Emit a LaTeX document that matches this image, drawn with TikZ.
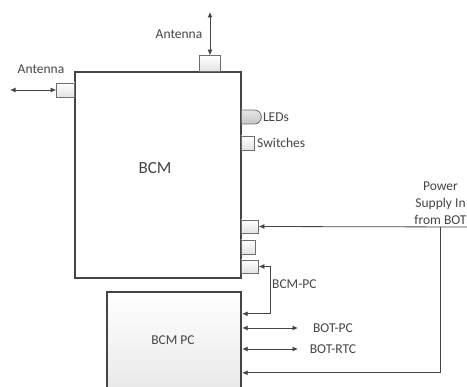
\documentclass[tikz,border=0pt]{standalone}
\usepackage{fontspec}
\setmainfont{Carlito}
\usepackage{xcolor}
\usepackage{tikz}
\usetikzlibrary{arrows.meta,positioning,calc,shapes.misc}
\definecolor{linec}{HTML}{454545}
\definecolor{portc}{HTML}{6E6E6E}

\begin{document}
\begin{tikzpicture}[
  x=1pt, y=-1pt,
  every node/.style={font=\fontsize{13.5}{17}\selectfont, text=linec},
  blk/.style={draw=linec, line width=2.4pt, inner sep=0pt},
  port/.style={draw=portc, line width=0.8pt, top color=white, bottom color=gray!22,
               inner sep=0pt},
  arr/.style={-{Latex[length=5.5pt,width=5pt]}, draw=linec, line width=0.8pt},
  darr/.style={{Latex[length=5.5pt,width=5pt]}-{Latex[length=5.5pt,width=5pt]},
               draw=linec, line width=0.8pt}
]
  \useasboundingbox (0,0) rectangle (467,387);
  \clip (0,0) rectangle (467,387);

  % main blocks
  \node[blk, fill=white, minimum width=166pt, minimum height=206pt] (bcm) at (158,175) {};
  \node (bcmlbl) at (155,168) {\fontsize{17}{20}\selectfont BCM};
  \node[blk, top color=white, bottom color=gray!18, minimum width=134pt,
        minimum height=100pt] (pc) at (174,342) {};
  \node (pclbl) at (173,340) {BCM PC};

  % ports on the BCM
  \node[port, minimum width=21pt, minimum height=16pt, anchor=south] (antp1) at (210,72) {};
  \node[port, minimum width=18pt, minimum height=14pt, anchor=east] (antp2) at (75,90) {};
  \node[port, rounded rectangle, rounded rectangle west arc=none, top color=gray!20,
        bottom color=gray!45, minimum width=20pt, minimum height=14pt, anchor=west] (led) at (241,117) {};
  \node[port, minimum width=13pt, minimum height=14pt, anchor=west] (sw) at (241,143) {};
  \node[port, minimum width=17pt, minimum height=13pt, anchor=west] (p1) at (241,226.5) {};
  \node[port, minimum width=14pt, minimum height=14pt, anchor=west] (p2) at (241,247) {};
  \node[port, minimum width=17pt, minimum height=13pt, anchor=west] (p3) at (241,266.5) {};

  % labels
  \node (antlbl1) at (179,34) {Antenna};
  \node (antlbl2) at (41,69) {Antenna};
  \node[anchor=west, inner sep=1pt] (ledlbl) at (led.east) {LEDs};
  \node[anchor=west, inner sep=1pt] (swlbl) at (256,143) {Switches};
  \node[align=center, inner sep=1pt] (pwrlbl) at (440.5,203) {Power\\Supply In\\from BOT};
  \node[anchor=west, inner sep=1pt] (bcmpclbl) at (271,284) {BCM-PC};

  % free ends
  \coordinate (antend1) at (210,12);
  \coordinate (antend2) at (10,90);
  \coordinate (pwrin) at (467,227);
  \coordinate (pwrcorner) at (440,227);
  \coordinate (botpc) at (298,328);
  \coordinate (botrtc) at (298,349);
  \node (botpclbl) at (333,328) {BOT-PC};
  \node (botrtclbl) at (333,349) {BOT-RTC};

  % connectors
  \draw[darr] (antend1) -- (antp1);
  \draw[darr] (antend2) -- (antp2);
  \draw[arr] (pwrin) -- (p1.east);
  \draw[arr] (pwrcorner) |- ($(pc.north east)+(0,82)$);
  \draw[darr] (p3.east) -- ++(12,0) |- ($(pc.north east)+(0,23)$);
  \draw[darr] (pc.east |- botpc) -- (botpc);
  \draw[darr] (pc.east |- botrtc) -- (botrtc);
\end{tikzpicture}
\end{document}
